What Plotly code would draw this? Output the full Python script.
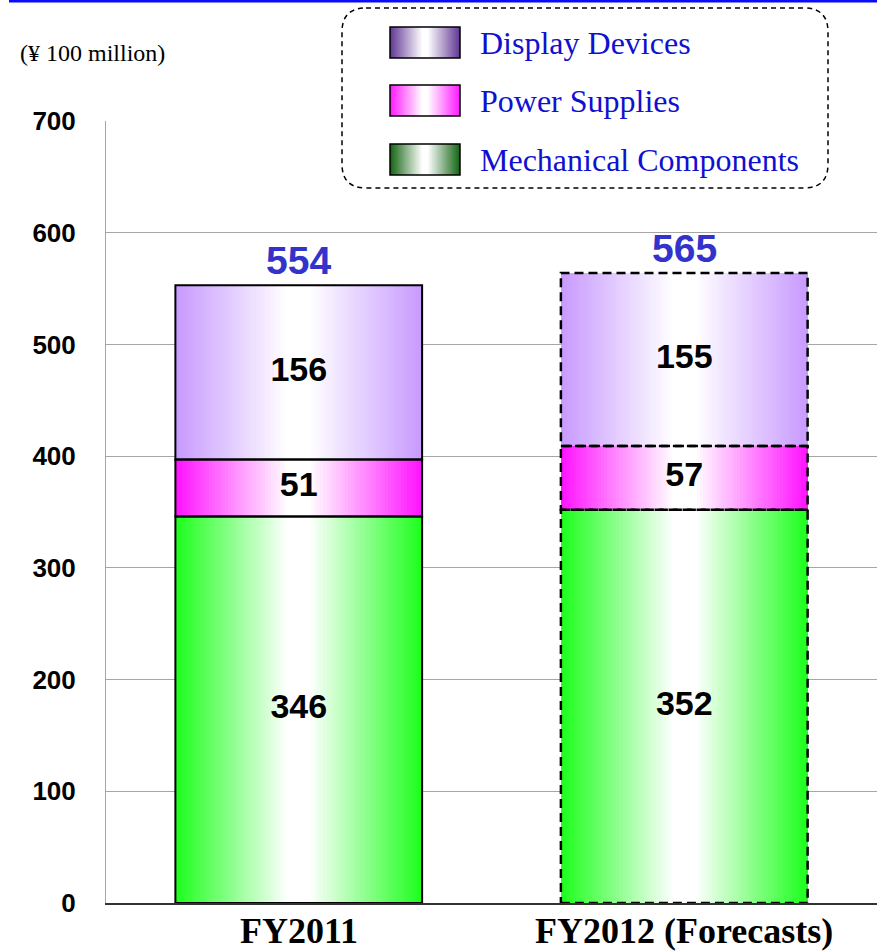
import plotly.graph_objects as go

# ---------------- data ----------------
categories = ["FY2011", "FY2012 (Forecasts)"]
mechanical = [346, 352]
power = [51, 57]
display = [156, 155]
totals = [554, 565]
forecast = [False, True]
series_names = ["Display Devices", "Power Supplies", "Mechanical Components"]
unit_label = "(¥ 100 million)"

# ---------------- styling ----------------
W, H = 877, 951
ML, MR, MT, MB = 106, 0, 121, 48
PW, PH = W - ML - MR, H - MT - MB

bar_edge = {"mech": (30, 255, 30), "power": (255, 20, 255), "disp": (200, 155, 255)}
swatch_edge = {"Display Devices": (100, 60, 150), "Power Supplies": (255, 30, 255),
               "Mechanical Components": (25, 105, 25)}
BW = 0.64
N = 40


def mix(c, t):
    r, g, b = (int(round(ci + (255 - ci) * t)) for ci in c)
    return f"rgb({r},{g},{b})"


def grad_t(frac):
    # frac = width fraction (1 = full width edge colour, small = centre white)
    return min(1.0, max(0.0, (1 - frac) / 0.9))


def px(x, y):
    return (x - ML) / PW, (H - MB - y) / PH


fig = go.Figure()

segments = [
    ("mech", mechanical, [0] * len(categories)),
    ("power", power, mechanical),
    ("disp", display, [m + p for m, p in zip(mechanical, power)]),
]

# gradient bars: layered overlay bars of decreasing width
for k in range(N):
    frac = 1 - k / N
    xs, ys, bs, cs = [], [], [], []
    for key, vals, base in segments:
        for i, c in enumerate(categories):
            xs.append(c)
            ys.append(vals[i])
            bs.append(base[i])
            cs.append(mix(bar_edge[key], grad_t(frac)))
    fig.add_trace(go.Bar(x=xs, y=ys, base=bs, width=BW * frac,
                         marker=dict(color=cs, line=dict(width=0)),
                         showlegend=False, hoverinfo="skip"))

# outlines
shapes = []
for key, vals, base in segments:
    for i, c in enumerate(categories):
        shapes.append(dict(type="rect", xref="x", yref="y",
                           x0=i - BW / 2, x1=i + BW / 2,
                           y0=base[i], y1=base[i] + vals[i],
                           line=dict(color="black", width=2.5 if forecast[i] else 2,
                                     dash="9px,5px" if forecast[i] else "solid"),
                           layer="above"))

# segment value labels
for key, vals, base in segments:
    fig.add_trace(go.Scatter(x=categories, y=[b + v / 2 for b, v in zip(base, vals)],
                             text=[str(v) for v in vals], mode="text",
                             textposition="middle center",
                             textfont=dict(family="Liberation Sans", size=34, color="black", weight="bold"),
                             showlegend=False, hoverinfo="skip"))

annotations = []
for i, c in enumerate(categories):
    annotations.append(dict(x=c, y=totals[i], xref="x", yref="y", text=f"<b>{totals[i]}</b>",
                            showarrow=False, yanchor="bottom", yshift=0,
                            font=dict(family="Liberation Sans", size=39, color="#3333cc")))
    # category labels
    annotations.append(dict(x=c, y=0, xref="x", yref="y", text=f"<b>{c}</b>",
                            showarrow=False, yanchor="top", yshift=-6,
                            font=dict(family="Liberation Serif", size=36, color="black")))

# unit label
ux, uy = px(18, 53)
annotations.append(dict(x=ux, y=uy, xref="paper", yref="paper", text=unit_label,
                        showarrow=False, xanchor="left", yanchor="middle",
                        font=dict(family="Liberation Serif", size=24, color="black")))

# top blue line
x0, y0 = px(9, 1)
x1, _ = px(877, 1)
shapes.append(dict(type="line", xref="paper", yref="paper", x0=x0, x1=x1, y0=y0, y1=y0,
                   line=dict(color="#0a0aff", width=3)))

# legend box (rounded, dashed)
def rounded_path(l, t, r, b, rad):
    def P(x, y):
        X, Y = px(x, y)
        return f"{X:.5f},{Y:.5f}"
    return (f"M {P(l + rad, t)} L {P(r - rad, t)} Q {P(r, t)} {P(r, t + rad)} "
            f"L {P(r, b - rad)} Q {P(r, b)} {P(r - rad, b)} "
            f"L {P(l + rad, b)} Q {P(l, b)} {P(l, b - rad)} "
            f"L {P(l, t + rad)} Q {P(l, t)} {P(l + rad, t)} Z")

shapes.append(dict(type="path", xref="paper", yref="paper",
                   path=rounded_path(342, 8, 828, 188, 24),
                   fillcolor="white", line=dict(color="black", width=1.5, dash="5px,4px"),
                   layer="above"))

legend_rows = [43, 101, 160]
for name, yc in zip(series_names, legend_rows):
    sl, sr, st, sb = 390, 460, yc - 16, yc + 15
    cx = (sl + sr) / 2
    half = (sr - sl) / 2
    M = 20
    for k in range(M):
        frac = 1 - k / M
        a, b_ = px(cx - half * frac, st)
        c_, d = px(cx + half * frac, sb)
        shapes.append(dict(type="rect", xref="paper", yref="paper", x0=a, x1=c_, y0=d, y1=b_,
                           fillcolor=mix(swatch_edge[name], grad_t(frac)), line=dict(width=0),
                           layer="above"))
    a, b_ = px(sl, st)
    c_, d = px(sr, sb)
    shapes.append(dict(type="rect", xref="paper", yref="paper", x0=a, x1=c_, y0=d, y1=b_,
                       line=dict(color="black", width=1.5), layer="above"))
    tx, ty = px(478, yc)
    annotations.append(dict(x=tx, y=ty, xref="paper", yref="paper", text=name,
                            showarrow=False, xanchor="left", yanchor="middle",
                            font=dict(family="Liberation Serif", size=32, color="#1010d0")))

fig.update_layout(
    width=W, height=H,
    margin=dict(l=ML, r=MR, t=MT, b=MB, pad=0, autoexpand=False),
    paper_bgcolor="white", plot_bgcolor="white",
    barmode="overlay", bargap=0,
    shapes=shapes, annotations=annotations,
    showlegend=False,
)
fig.update_yaxes(range=[0, 700], dtick=100, showgrid=True, gridcolor="#a6a6a6", gridwidth=1,
                 showline=True, linecolor="#a6a6a6", linewidth=1, zeroline=False,
                 ticks="", ticklabelstandoff=24, automargin=False,
                 tickfont=dict(family="Liberation Sans", size=26, color="black", weight="bold"))
fig.update_xaxes(showline=True, linecolor="#333333", linewidth=2, showgrid=False,
                 ticks="", showticklabels=False, automargin=False)

fig.write_html("out.html")
